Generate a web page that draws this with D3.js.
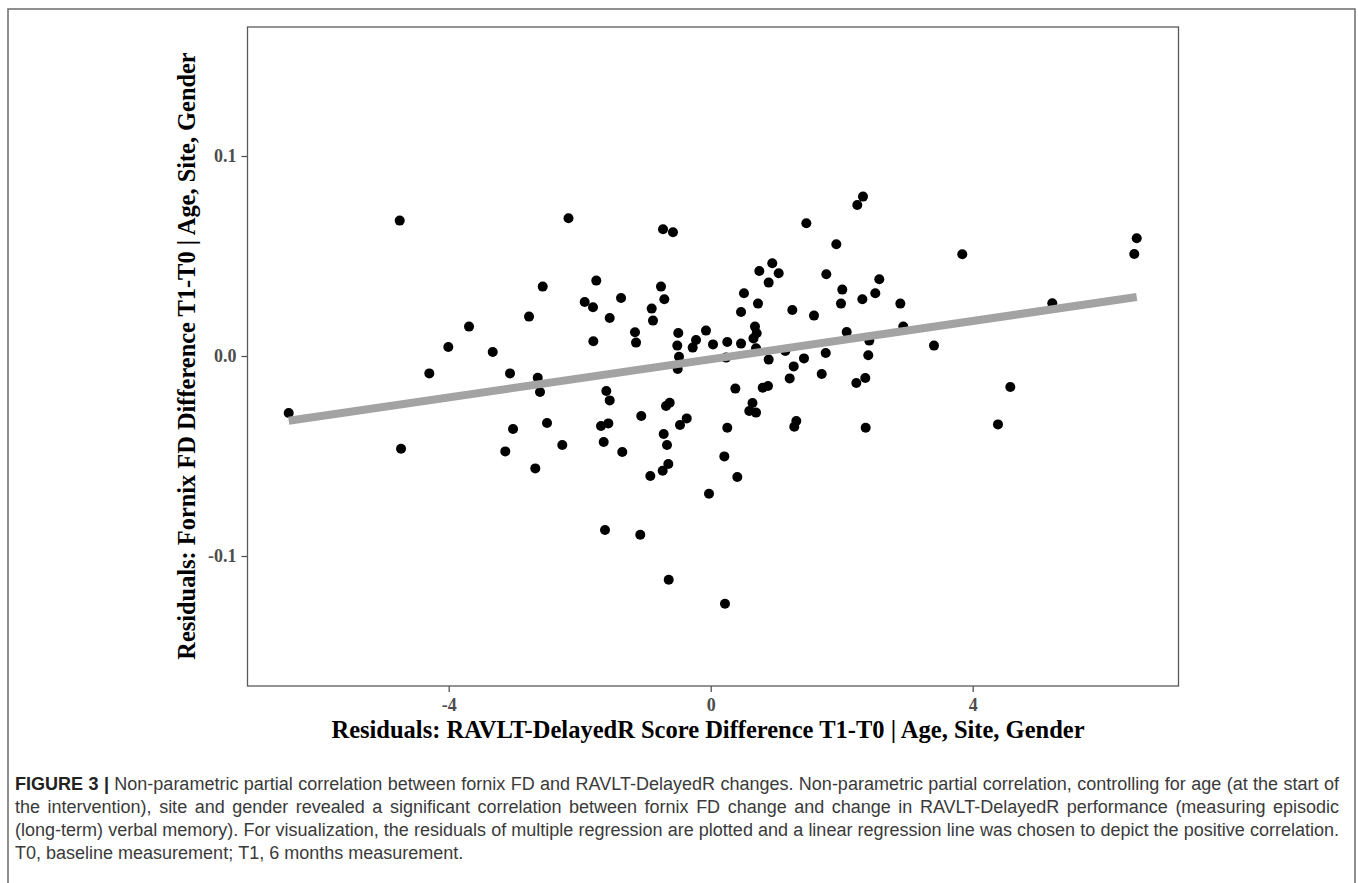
<!DOCTYPE html>
<html>
<head>
<meta charset="utf-8">
<script src="https://cdn.jsdelivr.net/npm/d3@7"></script>
<style>
  body { margin: 0; background: #fff; }
  svg { display: block; }
</style>
</head>
<body>
<svg id="chart" width="1358" height="883"></svg>
<script>
// residuals
const xResid = [-6.443,-4.748,-4.728,-4.296,-4.006,-3.690,-3.328,-3.136,-3.064,-3.018,-2.774,-2.678,-2.641,-2.606,-2.565,-2.499,-2.266,-2.171,
  -0.728,-0.576,-1.747,-0.759,-0.708,-1.369,-1.924,-1.797,-0.901,0.508,0.463,0.722,-1.542,-0.881,-1.156,-1.140,-1.792,-0.495,-0.072,-0.224,
  -0.275,-0.510,0.035,0.253,0.463,0.676,0.653,0.702,-0.484,-0.504,0.234,-1.594,-1.542,0.376,0.638,-0.682,-0.626,0.742,0.589,0.692,-1.060,
  -1.675,-1.563,-0.469,-0.366,0.253,-1.634,-0.718,-0.667,-1.350,0.208,-0.647,-0.733,-0.922,0.406,-0.026,-1.614,-1.075,-0.641,0.218,
  2.325,2.238,1.460,1.918,0.940,1.038,0.885,1.765,2.574,2.009,2.513,2.315,1.989,2.895,1.246,1.577,2.076,2.940,0.692,2.421,1.139,0.885,
  1.424,1.756,2.406,1.267,1.206,1.695,2.223,2.360,0.794,0.875,1.307,1.276,2.366,6.504,6.467,3.841,5.215,3.409,4.574,4.386];
const yResid = [-0.0285,0.0677,-0.0464,-0.0087,0.0045,0.0147,0.0020,-0.0477,-0.0087,-0.0365,0.0197,-0.0562,-0.0109,-0.0180,0.0347,-0.0335,-0.0445,0.0689,
  0.0634,0.0619,0.0377,0.0347,0.0284,0.0290,0.0270,0.0244,0.0237,0.0314,0.0220,0.0262,0.0190,0.0177,0.0119,0.0067,0.0074,0.0115,0.0127,0.0080,
  0.0042,0.0052,0.0058,0.0070,0.0062,0.0147,0.0088,0.0114,-0.0004,-0.0065,-0.0008,-0.0175,-0.0222,-0.0163,-0.0235,-0.0250,-0.0234,0.0425,-0.0275,-0.0283,-0.0300,
  -0.0350,-0.0337,-0.0345,-0.0312,-0.0359,-0.0430,-0.0390,-0.0445,-0.0480,-0.0502,-0.0540,-0.0574,-0.0600,-0.0605,-0.0689,-0.0870,-0.0894,-0.1119,-0.1239,
  0.0797,0.0755,0.0664,0.0559,0.0464,0.0414,0.0367,0.0409,0.0384,0.0332,0.0314,0.0284,0.0262,0.0262,0.0230,0.0202,0.0120,0.0147,0.0039,0.0077,0.0025,-0.0018,
  -0.0012,0.0015,0.0004,-0.0052,-0.0112,-0.0090,-0.0135,-0.0110,-0.0159,-0.0150,-0.0325,-0.0354,-0.0359,0.0589,0.0510,0.0509,0.0264,0.0052,-0.0155,-0.0342];

// regression line (intercept, slope) as drawn
const fitIntercept = -0.0016;
const fitSlope = 0.00478;

const xTicks = [-4, 0, 4];
const yTicks = [-0.1, 0.0, 0.1];
const xLabel = 'Residuals: RAVLT-DelayedR Score Difference T1-T0 | Age, Site, Gender';
const yLabel = 'Residuals: Fornix FD Difference T1-T0 | Age, Site, Gender';

const captionLines = [
  'FIGURE 3 | Non-parametric partial correlation between fornix FD and RAVLT-DelayedR changes. Non-parametric partial correlation, controlling for age (at the start of',
  'the intervention), site and gender revealed a significant correlation between fornix FD change and change in RAVLT-DelayedR performance (measuring episodic',
  '(long-term) verbal memory). For visualization, the residuals of multiple regression are plotted and a linear regression line was chosen to depict the positive correlation.',
  'T0, baseline measurement; T1, 6 months measurement.'
];

const svg = d3.select('#chart');
const panel = { left: 247.5, right: 1178.5, top: 27, bottom: 686 };

// outer figure frame
svg.append('rect')
  .attr('x', 8).attr('y', 9)
  .attr('width', 1347).attr('height', 900)
  .attr('fill', 'none')
  .attr('stroke', '#6b6b6b')
  .attr('stroke-width', 1.5);

const x = d3.scaleLinear().domain([-7.072, 7.142]).range([panel.left, panel.right]);
const y = d3.scaleLinear().domain([-0.165, 0.1645]).range([panel.bottom, panel.top]);

const serif = '"Liberation Serif", "Times New Roman", serif';
// plain hyphen for negatives, like R does
const hyphen = f => d => f(d).replace('\u2212', '-');

// axes
const xAxis = svg.append('g')
  .attr('transform', `translate(0,${panel.bottom})`)
  .call(d3.axisBottom(x).tickValues(xTicks).tickSize(6).tickPadding(4).tickFormat(hyphen(d3.format('d'))));
const yAxis = svg.append('g')
  .attr('transform', `translate(${panel.left},0)`)
  .call(d3.axisLeft(y).tickValues(yTicks).tickSize(6).tickPadding(5).tickFormat(hyphen(d3.format('.1f'))));

[xAxis, yAxis].forEach(g => {
  g.select('.domain').remove();
  g.selectAll('.tick line').attr('stroke', '#555').attr('stroke-width', 1.3);
  g.selectAll('.tick text')
    .attr('fill', '#4d4d4d')
    .style('font-family', serif)
    .style('font-weight', 'bold')
    .style('font-size', '18px');
});
xAxis.selectAll('.tick text').attr('dy', '0.71em').attr('y', 12);

// panel border
svg.append('rect')
  .attr('x', panel.left).attr('y', panel.top)
  .attr('width', panel.right - panel.left)
  .attr('height', panel.bottom - panel.top)
  .attr('fill', 'none')
  .attr('stroke', '#5a5a5a')
  .attr('stroke-width', 1.3);

// points
const points = xResid.map((d, i) => ({ x: d, y: yResid[i] }));
svg.append('g')
  .selectAll('circle')
  .data(points)
  .enter().append('circle')
  .attr('cx', d => x(d.x))
  .attr('cy', d => y(d.y))
  .attr('r', 5)
  .attr('fill', '#000');

// regression line over the points
const xr = d3.extent(xResid);
svg.append('line')
  .attr('x1', x(xr[0]))
  .attr('y1', y(fitIntercept + fitSlope * xr[0]))
  .attr('x2', x(xr[1]))
  .attr('y2', y(fitIntercept + fitSlope * xr[1]))
  .attr('stroke', '#a3a3a3')
  .attr('stroke-width', 8);

// axis titles
svg.append('text')
  .attr('x', 708)
  .attr('y', 738)
  .attr('text-anchor', 'middle')
  .style('font-family', serif)
  .style('font-weight', 'bold')
  .style('font-size', '24.5px')
  .text(xLabel);

svg.append('text')
  .attr('transform', 'rotate(-90)')
  .attr('x', -356)
  .attr('y', 195)
  .attr('text-anchor', 'middle')
  .style('font-family', serif)
  .style('font-weight', 'bold')
  .style('font-size', '24.4px')
  .text(yLabel);

// caption, justified like the journal layout
const capLeft = 15, capRight = 1339, capSize = 18;
const baselines = [790, 813, 836, 859];
captionLines.forEach((line, li) => {
  const words = line.split(' ');
  const t = svg.append('text')
    .attr('y', baselines[li])
    .style('font-family', '"Liberation Sans", Arial, sans-serif')
    .style('font-size', capSize + 'px')
    .attr('fill', '#3a3a3a');
  const spans = words.map((w, wi) => t.append('tspan')
    .style('font-weight', li === 0 && wi < 3 ? 'bold' : 'normal')
    .attr('fill', li === 0 && wi < 3 ? '#222' : null)
    .text(w));
  const widths = spans.map(s => s.node().getComputedTextLength());
  const total = d3.sum(widths);
  const last = li === captionLines.length - 1;
  const gap = last ? capSize * 0.278 : (capRight - capLeft - total) / (words.length - 1);
  let cx = capLeft;
  spans.forEach((s, i) => {
    s.attr('x', cx);
    cx += widths[i] + gap;
  });
});
</script>
</body>
</html>
